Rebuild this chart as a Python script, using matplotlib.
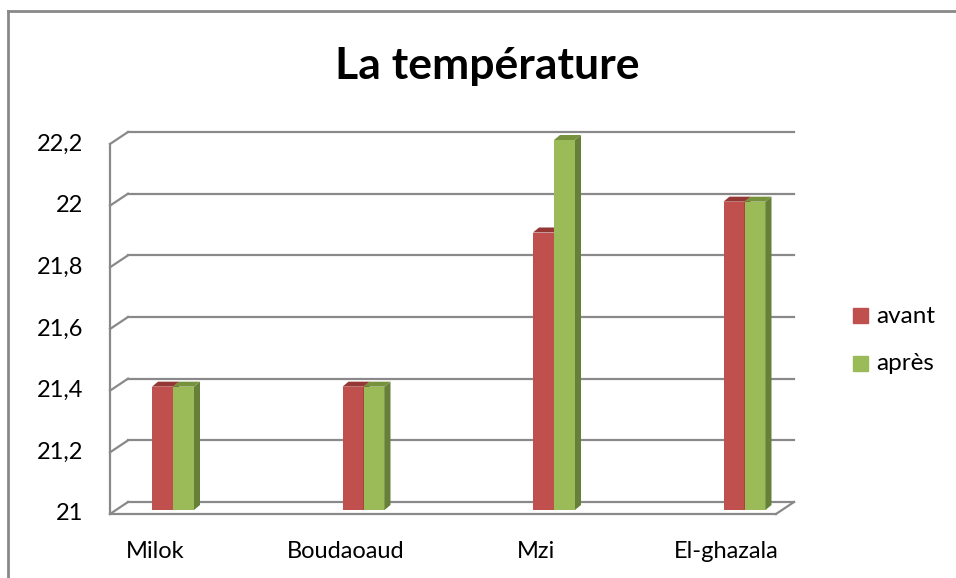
import matplotlib.pyplot as plt
import matplotlib.transforms as mtransforms
from matplotlib.patches import Polygon
from matplotlib.lines import Line2D

# données
villes = ['Milok', 'Boudaoaud', 'Mzi', 'El-ghazala']
avant = [21.4, 21.4, 21.9, 22.0]
apres = [21.4, 21.4, 22.2, 22.0]
graduations = [21, 21.2, 21.4, 21.6, 21.8, 22, 22.2]
etiquettes = ['21', '21,2', '21,4', '21,6', '21,8', '22', '22,2']

rouge, rouge_haut = '#C0504D', '#953735'
vert, vert_haut, vert_cote = '#9BBB59', '#76923C', '#66803A'
gris = '#898989'

plt.rcParams['font.family'] = ['Lato', 'DejaVu Sans']

W, H = 956, 578
fig = plt.figure(figsize=(W / 100, H / 100), dpi=100)

# plan des barres (pixels) : x 116..782, y 510 (21) .. 140 (22.2)
ax = fig.add_axes([116 / W, (H - 510) / H, 666 / W, 370 / H])
x0 = (116 - 173) / 190.5
x1 = (782 - 173) / 190.5
ax.set_xlim(x0, x1)
ax.set_ylim(21, 22.2)
ax.axis('off')


def decal(dx, dy):
    return ax.transData + mtransforms.ScaledTranslation(dx / 100, dy / 100, fig.dpi_scale_trans)


t_fond = decal(12, 8)
t_avant = decal(-6, -4)

# mur du fond : quadrillage
for v in graduations:
    ax.add_line(Line2D([x0, x1], [v, v], color=gris, lw=1.6, transform=t_fond, clip_on=False))

# axe vertical avant + petites diagonales
px_x = 1 / 190.5
px_y = 1.2 / 370
ax.add_line(Line2D([x0, x0], [21, 22.2], color=gris, lw=1.6, transform=t_avant, clip_on=False))
for v in graduations:
    ax.add_line(Line2D([x0 - 6 * px_x, x0 + 12 * px_x], [v - 4 * px_y, v + 8 * px_y],
                       color=gris, lw=1.6, clip_on=False))
# sol
ax.add_line(Line2D([x0, x1], [21, 21], color=gris, lw=1.6, transform=t_avant, clip_on=False))
ax.add_line(Line2D([x1 - 6 * px_x, x1 + 12 * px_x], [21 - 4 * px_y, 21 + 8 * px_y],
                   color=gris, lw=1.6, clip_on=False))

# barres 3D
larg = 21 * px_x
prof_x, prof_y = 6 * px_x, 5 * px_y


def barre(xg, val, face, haut, cote):
    ax.bar(xg, val - 21, width=larg, bottom=21, align='edge', color=face, zorder=3)
    xd = xg + larg
    ax.add_patch(Polygon([(xd, 21), (xd, val), (xd + prof_x, val + prof_y), (xd + prof_x, 21 + prof_y)],
                         closed=True, facecolor=cote, edgecolor='none', zorder=3, clip_on=False))
    ax.add_patch(Polygon([(xg, val), (xd, val), (xd + prof_x, val + prof_y), (xg + prof_x, val + prof_y)],
                         closed=True, facecolor=haut, edgecolor='none', zorder=3, clip_on=False))


for i in range(len(villes)):
    barre(i - larg, avant[i], rouge, rouge_haut, rouge_haut)
    barre(i, apres[i], vert, vert_haut, vert_cote)

# étiquettes
for v, e in zip(graduations, etiquettes):
    ax.text(x0, v, e, transform=decal(-33, -4), ha='right', va='center', fontsize=17, color='black')
for i, c in enumerate(villes):
    ax.text(i, 21, c, transform=decal(-18, -41), ha='center', va='center', fontsize=17, color='black')

# titre
fig.text(487 / W, 1 - 66 / H, 'La température', ha='center', va='center',
         fontsize=32, fontweight='bold')

# légende
for yy, col, lab in [(316, rouge, 'avant'), (364, vert, 'après')]:
    fig.patches.append(plt.Rectangle((853 / W, 1 - (yy + 7) / H), 15 / W, 15 / H,
                                     transform=fig.transFigure, color=col))
    fig.text(876 / W, 1 - yy / H, lab, ha='left', va='center', fontsize=17.5)

# cadre extérieur
fig.add_artist(Line2D([8 / W, 8 / W], [0, 1 - 11 / H], color=gris, lw=2, transform=fig.transFigure))
fig.add_artist(Line2D([8 / W, 1], [1 - 11 / H, 1 - 11 / H], color=gris, lw=2, transform=fig.transFigure))

fig.savefig('out.png', dpi=100)
